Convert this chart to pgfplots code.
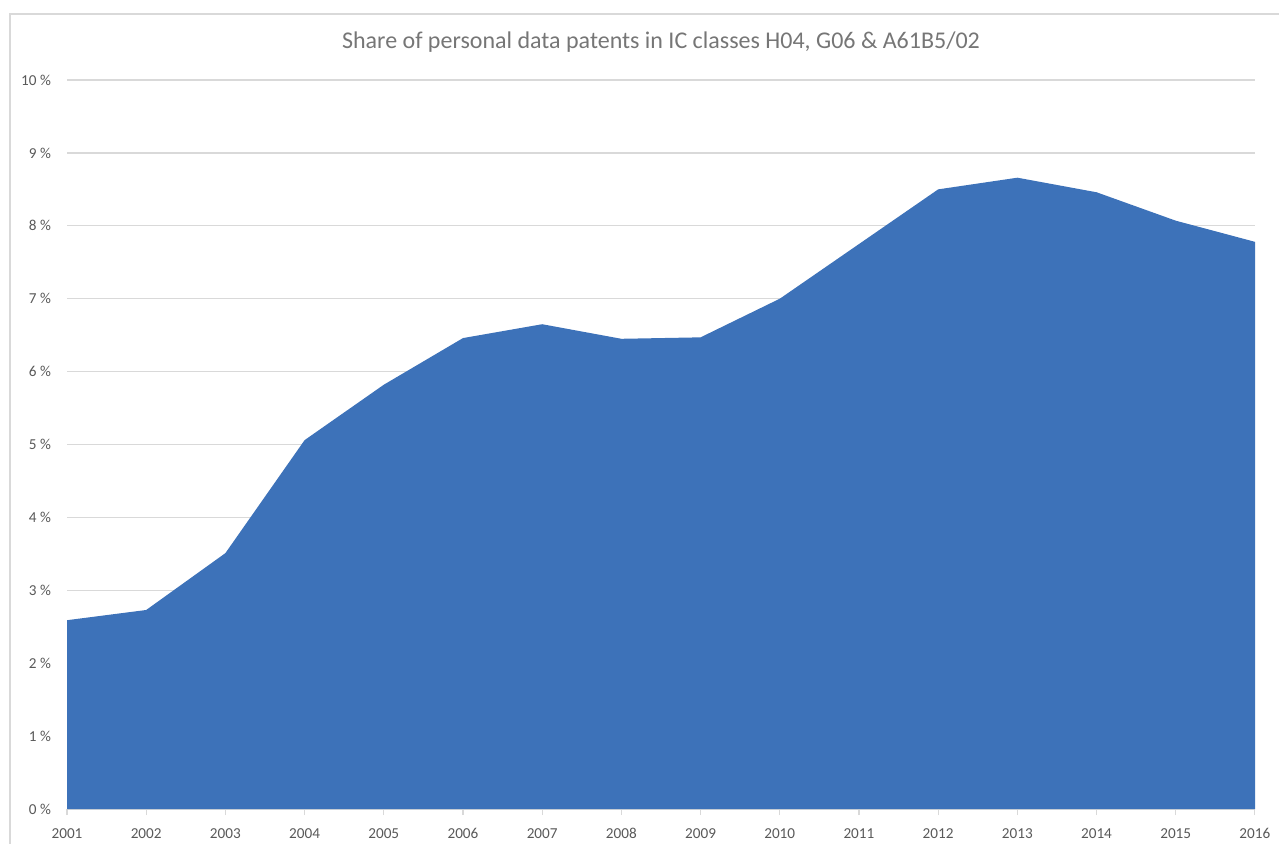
\documentclass[border=0pt]{standalone}
\usepackage{fontspec}
\setmainfont{Carlito}
\usepackage{pgfplots}
\pgfplotsset{compat=1.18}
\definecolor{areablue}{HTML}{3D72B9}
\definecolor{gridgray}{HTML}{D9D9D9}
\definecolor{txtgray}{HTML}{595959}
\definecolor{titlegray}{HTML}{767676}
\begin{document}
\begin{tikzpicture}
\useasboundingbox (-33.5pt,-17pt) rectangle (606pt,404.5pt);
\draw[gridgray, line width=0.6pt] (-28.5pt,-20pt) -- (-28.5pt,397.5pt) -- (610pt,397.5pt);
\begin{axis}[
  at={(0,0)}, anchor=origin,
  scale only axis, width=594pt, height=364.5pt,
  xmin=2001, xmax=2016, ymin=0, ymax=10,
  xtick={2001,...,2016}, ytick={0,...,10},
  /pgf/number format/1000 sep={},
  /pgf/number format/assume math mode=true,
  axis y line*=left, axis x line*=bottom,
  axis line style={gridgray, line width=0.6pt, -},
  y axis line style={draw=none},
  ymajorgrids, grid style={gridgray, line width=0.6pt},
  xtick style={gridgray, line width=0.6pt},
  tick align=outside, major tick length=3pt,
  ytick style={draw=none},
  yticklabel={\pgfmathprintnumber{\tick}~\%},
  ticklabel style={font=\fontsize{7.6}{9}\selectfont, text=txtgray},
  xticklabel style={anchor=base, yshift=-11.5pt},
  yticklabel style={xshift=-1.5pt},
  clip=false,
]
\addplot[fill=areablue, draw=none] coordinates {
  (2001,2.59) (2002,2.73) (2003,3.51) (2004,5.06) (2005,5.82) (2006,6.46)
  (2007,6.65) (2008,6.45) (2009,6.47) (2010,7.00) (2011,7.75) (2012,8.50)
  (2013,8.66) (2014,8.46) (2015,8.07) (2016,7.78)
} \closedcycle;
\end{axis}
\node[font=\fontsize{12}{14}\selectfont, text=titlegray] at (297pt,383.5pt)
  {Share of personal data patents in IC classes H04, G06 \& A61B5/02};
\end{tikzpicture}
\end{document}
